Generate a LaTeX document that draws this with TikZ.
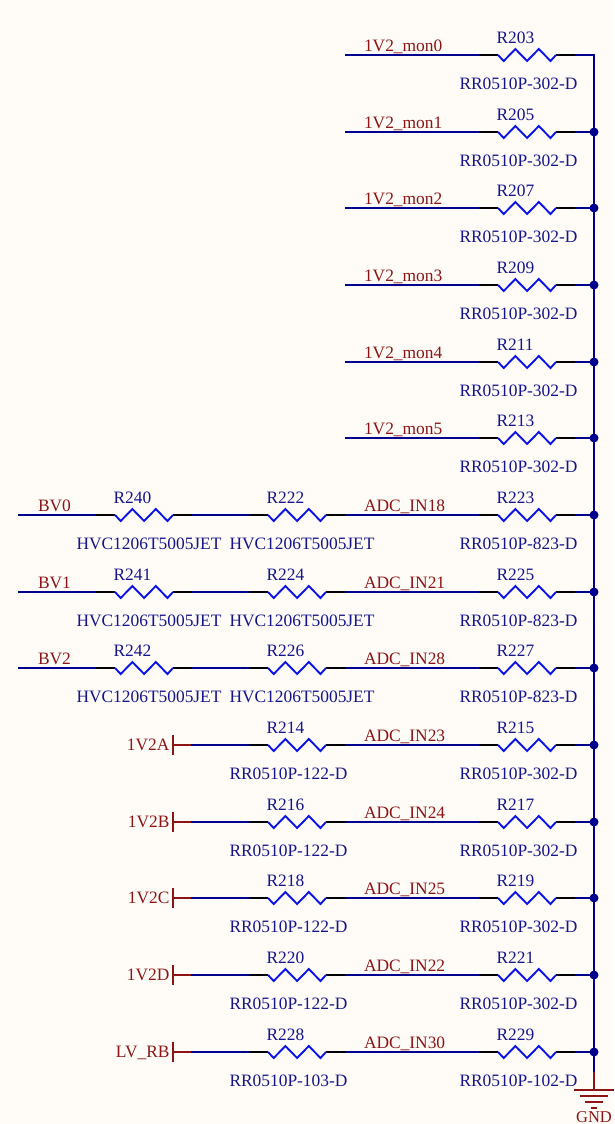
\documentclass[tikz,border=0pt]{standalone}
\usepackage{fontspec}
\setmainfont{Liberation Serif}
\definecolor{paper}{HTML}{FFFCF8}
\definecolor{wire}{HTML}{00008F}
\definecolor{zig}{HTML}{0A14E6}
\definecolor{ink}{HTML}{14148C}
\definecolor{netred}{HTML}{8C1414}
\tikzset{
  wirel/.style={draw=wire,line width=2pt},
  lead/.style={draw=black,line width=2pt},
  zigl/.style={draw=zig,line width=1.9pt,line join=miter},
  pwr/.style={draw=netred,line width=2pt},
  reflab/.style={text=ink,font=\fontsize{17.4}{19}\selectfont,anchor=base west,inner sep=0pt,outer sep=0pt},
  netlab/.style={text=netred,font=\fontsize{17.4}{19}\selectfont,anchor=base west,inner sep=0pt,outer sep=0pt},
  portlab/.style={text=netred,font=\fontsize{17.4}{19}\selectfont,anchor=base east,inner sep=0pt,outer sep=0pt},
  gndlab/.style={text=netred,font=\fontsize{16.5}{18}\selectfont,anchor=base,inner sep=0pt,outer sep=0pt},
  dot/.style={circle,fill=wire,draw=none,minimum size=9pt,inner sep=0pt,outer sep=0pt},
}
% name, zigzag left x, row y, ref, value
\newcommand{\myres}[5]{%
  \coordinate (#1-a) at (#2-19,#3);
  \coordinate (#1-l) at (#2,#3);
  \coordinate (#1-r) at (#2+58,#3);
  \coordinate (#1-b) at (#2+77,#3);
  \draw[lead] (#1-a) -- (#1-l);
  \draw[lead] (#1-r) -- (#1-b);
  \draw[zigl] (#1-l) -- ++(5.7,6) -- ++(11.7,-12) -- ++(11.7,12) -- ++(11.7,-12) -- ++(11.7,12) -- (#1-r);
  \node[reflab] (#1-ref) at (#2-1.5,#3-11.4) {#4};
  \node[reflab] (#1-val) at (#2-38.5,#3+34.6) {#5};
}
\begin{document}
\begin{tikzpicture}[x=1pt,y=-1pt]
\useasboundingbox[fill=paper] (0,0) rectangle (614,1124);
\coordinate (bus-top) at (594,54);
\coordinate (gnd-top) at (594,1090);
% upper rows
\foreach \i/\y/\net/\ref in {0/55/1V2\_mon0/R203,1/132/1V2\_mon1/R205,2/208/1V2\_mon2/R207,3/285/1V2\_mon3/R209,4/362/1V2\_mon4/R211,5/438/1V2\_mon5/R213}{
  \myres{r\i}{498}{\y}{\ref}{RR0510P-302-D}
  \coordinate (s\i) at (345,\y);
  \coordinate (e\i) at (594,\y);
  \draw[wirel] (s\i) -- (r\i-a);
  \draw[wirel] (r\i-b) -- (e\i);
  \node[netlab] (n\i) at (364,\y-3.4) {\net};
}
\draw[wirel] (bus-top) -- (594,1072) coordinate (bus-end);
\draw[pwr] (bus-end) -- (gnd-top);
\foreach \i in {1,...,5}{\node[dot] (j\i) at (e\i) {};}
% BV rows
\foreach \i/\y/\bv/\ra/\rb/\rc/\net/\vc in {6/515/BV0/R240/R222/R223/ADC\_IN18/RR0510P-823-D,7/592/BV1/R241/R224/R225/ADC\_IN21/RR0510P-823-D,8/668/BV2/R242/R226/R227/ADC\_IN28/RR0510P-823-D}{
  \myres{a\i}{115}{\y}{\ra}{HVC1206T5005JET}
  \myres{b\i}{268}{\y}{\rb}{HVC1206T5005JET}
  \myres{c\i}{498}{\y}{\rc}{\vc}
  \coordinate (s\i) at (18,\y);
  \node[dot] (j\i) at (594,\y) {};
  \draw[wirel] (s\i) -- (a\i-a);
  \draw[wirel] (a\i-b) -- (b\i-a);
  \draw[wirel] (b\i-b) -- (c\i-a);
  \draw[wirel] (c\i-b) -- (j\i);
  \node[netlab] (bv\i) at (38,\y-4) {\bv};
  \node[netlab] (n\i) at (364,\y-4) {\net};
}
% port rows
\foreach \i/\y/\port/\rb/\vb/\rc/\vc/\net in {9/745/1V2A/R214/RR0510P-122-D/R215/RR0510P-302-D/ADC\_IN23,10/822/1V2B/R216/RR0510P-122-D/R217/RR0510P-302-D/ADC\_IN24,11/898/1V2C/R218/RR0510P-122-D/R219/RR0510P-302-D/ADC\_IN25,12/975/1V2D/R220/RR0510P-122-D/R221/RR0510P-302-D/ADC\_IN22,13/1052/LV\_RB/R228/RR0510P-103-D/R229/RR0510P-102-D/ADC\_IN30}{
  \myres{b\i}{268}{\y}{\rb}{\vb}
  \myres{c\i}{498}{\y}{\rc}{\vc}
  \coordinate (p\i) at (172.5,\y);
  \coordinate (q\i) at (191,\y);
  \node[dot] (j\i) at (594,\y) {};
  \draw[pwr] (172.5,\y-10) -- (172.5,\y+10);
  \draw[pwr] (p\i) -- (q\i);
  \draw[wirel] (q\i) -- (b\i-a);
  \draw[wirel] (b\i-b) -- (c\i-a);
  \draw[wirel] (c\i-b) -- (j\i);
  \node[portlab] (port\i) at (169.5,\y+5.5) {\port};
  \node[netlab] (n\i) at (364,\y-3.6) {\net};
}
% GND
\draw[pwr] (574,1090) -- (614,1090);
\draw[pwr] (580,1096) -- (608,1096);
\draw[pwr] (585,1102) -- (603,1102);
\draw[pwr] (591,1108) -- (597,1108);
\node[gndlab] (gnd) at (594,1122.5) {GND};
\end{tikzpicture}
\end{document}
